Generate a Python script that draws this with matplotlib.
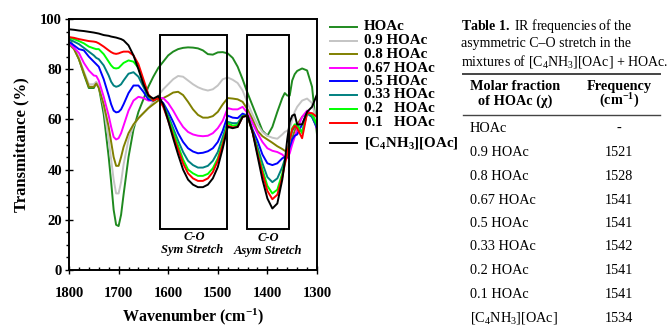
import matplotlib
matplotlib.use("Agg")
import matplotlib.pyplot as plt
from matplotlib.lines import Line2D
from matplotlib.patches import Rectangle
from matplotlib.ticker import MultipleLocator

plt.rcParams['font.family'] = ['Liberation Serif', 'DejaVu Serif']
plt.rcParams['mathtext.fontset'] = 'custom'
plt.rcParams['mathtext.rm'] = 'Liberation Serif'
plt.rcParams['mathtext.bf'] = 'Liberation Serif:bold'
plt.rcParams['mathtext.it'] = 'Liberation Serif:italic'

# ---------------- data ----------------
wavenumber = [1800, 1790, 1780, 1770, 1760, 1750, 1745, 1740, 1730, 1720, 1715, 1710, 1705, 1700,
              1695, 1690, 1680, 1670, 1660, 1650, 1640, 1630, 1620, 1610, 1600, 1590, 1580, 1570,
              1560, 1550, 1540, 1530, 1520, 1510, 1500, 1490, 1480, 1470, 1460, 1450, 1440, 1430,
              1420, 1410, 1400, 1390, 1380, 1370, 1365, 1360, 1355, 1350, 1345, 1340, 1330, 1320,
              1310, 1300]

t_hoac = [92.5, 88.5, 84, 78, 72.5, 72.5, 74.5, 73, 62, 45, 35, 24, 18, 17.5,
          22, 30, 45, 56, 63, 68, 73, 77, 80.5, 83, 85.5, 87, 88, 88.5,
          88.7, 88.6, 88.3, 87.5, 86, 85.8, 86.7, 86.8, 86.3, 84.5, 81, 76, 70.5, 65.5,
          60.5, 55.5, 53.5, 57, 63, 68.5, 70.5, 69.5, 69.5, 75.5, 78, 79.3, 80.3, 79.5,
          73, 54]
t_09 = [91.5, 88.5, 84.5, 79, 74, 74, 75, 73.5, 65, 52, 44, 36, 30.5, 30.5,
        35, 42, 52, 57.5, 60.5, 62.5, 64.5, 67, 69.5, 72, 74, 76, 77.3, 77,
        75.5, 74, 72.8, 72, 71.5, 72, 73.5, 76, 76.7, 75.8, 74.5, 71.5, 66.5, 62,
        58, 55, 53.5, 52.7, 52.3, 54, 55, 55.5, 56, 60, 63, 65, 67.5, 68.3,
        66.5, 58.5]
t_08 = [90, 88, 84, 78.5, 73, 73, 74.3, 72.5, 66, 57, 51, 45, 41.5, 41.5,
        45, 49, 54.5, 58, 60.5, 62.5, 64.5, 66, 67.5, 68.5, 69.5, 70.7, 71, 69.7,
        67, 64, 61.8, 60.7, 60.7, 61.3, 63, 66, 68.5, 68.3, 68, 67, 64, 60,
        55.5, 53.3, 52, 50.7, 49.3, 48.2, 47.5, 47.2, 49, 52.5, 55.5, 58, 61, 63,
        61.5, 57.5]
t_067 = [90.5, 88.5, 86.5, 82.5, 79.5, 77.5, 77.3, 75.5, 69, 61.5, 57, 53, 52, 52.5,
         54.5, 57.5, 63.5, 67.5, 69, 68.5, 67.5, 67.5, 68.5, 68.5, 66.5, 63.5, 60, 57,
         55, 54, 53.5, 53.3, 53.5, 54.5, 56.5, 59.5, 64.5, 64, 64, 65, 62.5, 58.5,
         54.5, 51, 48.5, 47.5, 47, 46, 45, 44.5, 46.5, 50, 53, 56, 61, 63.5,
         62, 56]
t_05 = [91, 89.5, 88, 87.5, 85, 83, 82, 81, 76, 69.5, 66, 63.5, 62.8, 63,
        64, 66, 70.5, 73.5, 73.5, 71, 68, 67.5, 68.5, 66.5, 63, 59, 54.5, 51,
        48.5, 47.2, 46.5, 46.7, 47.3, 48.5, 51, 55.5, 61.5, 60.7, 60.5, 62.3, 61.5, 56,
        51.5, 46, 42.5, 41.8, 42.5, 44.5, 45, 45, 49, 52, 53.5, 54, 58, 62.5,
        61, 56.5]
t_033 = [92, 91, 90, 88.5, 87, 85.5, 84.5, 84, 81.5, 77.5, 75, 73.5, 73, 73.3,
         74, 75.5, 78.2, 78.8, 77, 73, 69, 67.5, 68.5, 66, 61.5, 56.5, 51.5, 47,
         43.5, 41.8, 40.8, 40.8, 41.5, 43.5, 47, 53, 59, 58.5, 58.5, 61.5, 61.5, 55,
         49, 42.5, 37, 35, 36.5, 41, 44, 46, 51.5, 55.5, 57, 57.5, 55, 62.5,
         61, 57]
t_02 = [92.5, 92, 91.2, 90.3, 89, 88.3, 88, 88, 86, 83, 81.5, 80.5, 80.3, 80.5,
        81.5, 82.5, 83.5, 83, 80.5, 75, 69.5, 67.5, 68.5, 65.5, 60.5, 55, 49.5, 44,
        40, 38.5, 37.5, 37.5, 38.3, 40.5, 44.5, 51, 58.5, 57.5, 57.8, 61.3, 61.5, 55,
        47.5, 40, 33.5, 30.5, 32, 38.5, 43, 46, 52, 56.5, 58, 58, 54.5, 62.5,
        62, 58]
t_01 = [92.8, 92.5, 92, 91.6, 91.2, 91, 90.8, 90.3, 89, 87.5, 86.8, 86.3, 86.1, 86.3,
        86.7, 87, 87, 85.5, 82, 76, 70, 67.5, 68.5, 65, 59.5, 53.5, 48, 42.5,
        38.5, 36.5, 35.5, 35.5, 36.5, 39, 43.5, 50, 57.5, 56.8, 57, 61, 61.5, 55,
        46.5, 38.5, 31.5, 28.2, 30, 37, 42, 46, 52, 56, 57.5, 56.5, 52.5, 62.5,
        62.5, 61]
t_il = [95.9, 95.7, 95.4, 95.2, 94.9, 94.6, 94.4, 94.2, 93.6, 93.3, 93, 92.8, 92.6, 92.3,
        92, 91.5, 89.5, 85.5, 80, 74, 69.5, 68.3, 69.3, 66, 59.5, 52.5, 46, 40,
        36, 34, 33, 33, 34, 36.5, 41, 48.5, 57, 56.5, 57, 61, 61.5, 55,
        45.5, 36, 28.5, 24.5, 26.5, 36, 43, 52, 59, 61.5, 62, 58, 58, 63,
        65, 70]

series_labels = ['HOAc', '0.9 HOAc', '0.8 HOAc', '0.67 HOAc', '0.5 HOAc', '0.33 HOAc',
                 '0.2   HOAc', '0.1   HOAc', r'[C$_\mathbf{4}$NH$_\mathbf{3}$][OAc]']
series_values = [t_hoac, t_09, t_08, t_067, t_05, t_033, t_02, t_01, t_il]
series_colors = ['#1f8a1f', '#c4c4c4', '#808000', '#ff00ff', '#0000ff', '#008080',
                 '#00ff00', '#ff0000', '#000000']

sym_box = (1616, 1481)
asym_box = (1441, 1356)
box_y = (16.2, 93.6)

table_rows = ['HOAc', '0.9 HOAc', '0.8 HOAc', '0.67 HOAc', '0.5 HOAc', '0.33 HOAc',
              '0.2 HOAc', '0.1 HOAc', r'[C$_\mathrm{4}$NH$_\mathrm{3}$][OAc]']
table_freq = ['-', '1521', '1528', '1541', '1541', '1542', '1541', '1541', '1534']

# ---------------- figure ----------------
W, H = 672, 329
fig = plt.figure(figsize=(W / 100, H / 100), dpi=100)
ax = fig.add_axes([69 / W, 1 - 270 / H, (317 - 69) / W, (270 - 19) / H])

for vals, col in zip(series_values, series_colors):
    ax.plot(wavenumber, vals, color=col, lw=1.4, solid_joinstyle='round')

ax.set_xlim(1800, 1300)
ax.set_ylim(0, 100)
ax.xaxis.set_major_locator(MultipleLocator(100))
ax.xaxis.set_minor_locator(MultipleLocator(20))
ax.yaxis.set_major_locator(MultipleLocator(20))
ax.yaxis.set_minor_locator(MultipleLocator(5))
ax.tick_params(which='both', top=False, right=False, width=1.0)
ax.tick_params(axis='y', which='major', direction='inout', length=6, labelsize=10.5, pad=2)
ax.tick_params(axis='y', which='minor', direction='out', length=2.5)
ax.tick_params(axis='x', which='major', direction='inout', length=6, labelsize=10.5, pad=9)
ax.tick_params(axis='x', which='minor', direction='in', length=2.5)
for lab in ax.get_xticklabels() + ax.get_yticklabels():
    lab.set_fontweight('bold')
for sp in ax.spines.values():
    sp.set_linewidth(1.4)

ax.set_xlabel(r'Wavenumber (cm$^{\mathbf{-1}}$)', fontsize=11.5, fontweight='bold', labelpad=5)
ax.set_ylabel('Transmittance (%)', fontsize=12, fontweight='bold', labelpad=8)

for (x0, x1) in (sym_box, asym_box):
    ax.add_patch(Rectangle((x1, box_y[0]), x0 - x1, box_y[1] - box_y[0],
                           fill=False, ec='black', lw=1.4, zorder=5))

ax.text(1548, 13.1, 'C-O', ha='center', va='center', fontsize=9, style='italic', fontweight='bold')
ax.text(1552, 8.0, 'Sym Stretch', ha='center', va='center', fontsize=9, style='italic', fontweight='bold')
ax.text(1399, 12.8, 'C-O', ha='center', va='center', fontsize=9, style='italic', fontweight='bold')
ax.text(1399, 7.6, 'Asym Stretch', ha='center', va='center', fontsize=9, style='italic', fontweight='bold')

# ---------------- legend (manual) ----------------
leg_y = [27, 40.5, 54, 68, 81.5, 95, 109, 122.5, 143]
for yy, lab, col in zip(leg_y, series_labels, series_colors):
    fy = 1 - yy / H
    fig.add_artist(Line2D([330 / W, 357 / W], [fy, fy], color=col, lw=1.4))
    fig.text(364 / W, fy, lab, fontsize=10.8, fontweight='bold', va='center', ha='left')

# ---------------- table ----------------
tx = 461 / W
cap_fs = 10
fig.text(tx, 1 - 26 / H, r'$\mathbf{Table\ 1.}$ IR frequencies of the', fontsize=cap_fs, va='center')
fig.text(tx, 1 - 44 / H, 'asymmetric C\u2013O stretch in the', fontsize=cap_fs, va='center')
fig.text(tx, 1 - 62 / H, r'mixtures of [C$_\mathrm{4}$NH$_\mathrm{3}$][OAc] + HOAc.', fontsize=cap_fs, va='center')

rx0, rx1 = 463 / W, 660 / W
fig.add_artist(Line2D([rx0, rx1], [1 - 74 / H] * 2, color='#444444', lw=1.4))
fig.add_artist(Line2D([rx0, rx1], [1 - 115 / H] * 2, color='#444444', lw=1.0))

tfs = 10.3
c1, c2 = 515 / W, 619 / W
fig.text(c1, 1 - 87 / H, 'Molar fraction', fontsize=tfs, fontweight='bold', ha='center', va='center')
fig.text(c1, 1 - 101 / H, 'of HOAc (\u03c7)', fontsize=tfs, fontweight='bold', ha='center', va='center')
fig.text(c2, 1 - 87 / H, 'Frequency', fontsize=tfs, fontweight='bold', ha='center', va='center')
fig.text(c2, 1 - 101 / H, r'(cm$^{\mathbf{-1}}$)', fontsize=tfs, fontweight='bold', ha='center', va='center')

row_y = [128, 152, 176, 200, 223.5, 247, 271, 294.5, 318]
for yy, name, fr in zip(row_y, table_rows, table_freq):
    fig.text(470 / W, 1 - yy / H, name, fontsize=tfs, ha='left', va='center')
    fig.text(c2, 1 - yy / H, fr, fontsize=tfs, ha='center', va='center')

fig.savefig('out.png', dpi=100)
